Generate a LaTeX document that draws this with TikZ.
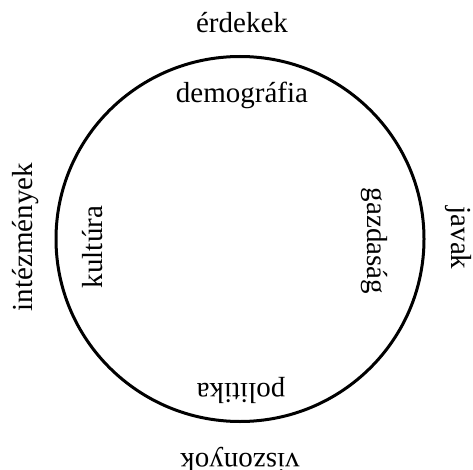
\documentclass[tikz,border=0pt]{standalone}
\usepackage{fontspec}
\setmainfont{Liberation Serif}
\usepackage{tikz}

\begin{document}
\begin{tikzpicture}[x=1pt,y=1pt,
  word/.style={inner sep=0pt,anchor=base,font=\fontsize{29}{34}\selectfont}]

\useasboundingbox (0,0) rectangle (473,469);

% Circle
\coordinate (c) at (240,230);
\draw[line width=3pt] (c) ellipse [x radius=184, y radius=182.5];

% Outer labels
\node[word] (erdekek) at (242,436) {érdekek};
\node[word,rotate=90] (intezmenyek) at (32,232) {intézmények};
\node[word,rotate=-90] (javak) at (451,231) {javak};
\node[word,rotate=180] (viszonyok) at (240,16) {viszonyok};

% Inner labels
\node[word] (demografia) at (242,366) {demográfia};
\node[word,rotate=90] (kultura) at (102,222) {kultúra};
\node[word,rotate=-90] (gazdasag) at (367,228) {gazdaság};
\node[word,rotate=180] (politika) at (241,86) {politika};

\end{tikzpicture}
\end{document}
